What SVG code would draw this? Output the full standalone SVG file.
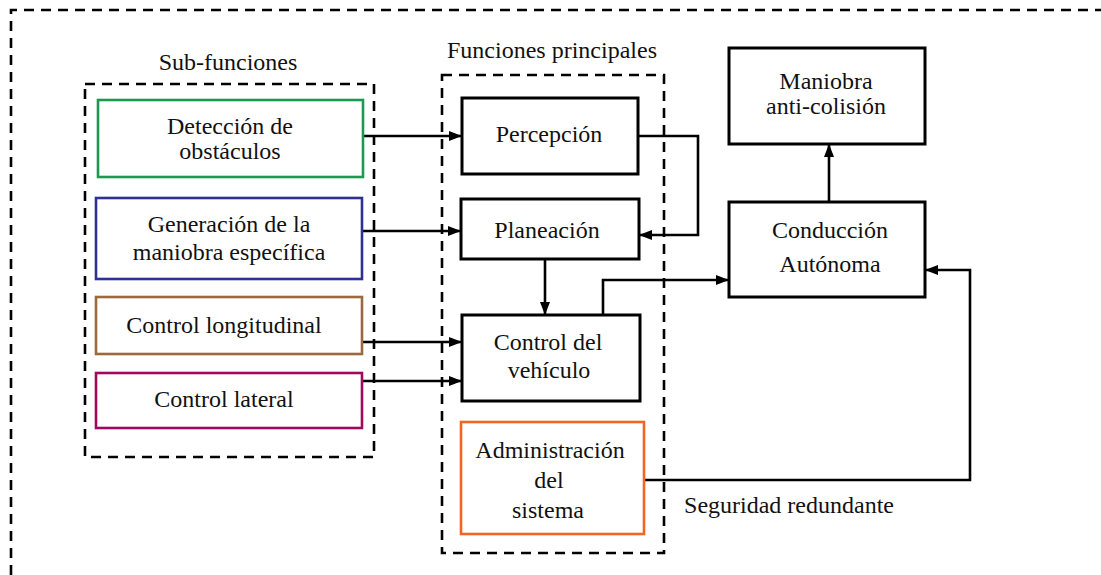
<svg xmlns="http://www.w3.org/2000/svg" width="1101" height="575" viewBox="0 0 1101 575">
  <defs>
    <marker id="arrow" markerUnits="userSpaceOnUse" markerWidth="14" markerHeight="12" refX="13" refY="6" orient="auto">
      <path d="M0,1 L13,6 L0,11 Z" fill="#000"/>
    </marker>
    <style>
      .frame { fill: none; stroke: #000; stroke-width: 2.6; stroke-dasharray: 10 7; }
      .box { fill: #fff; stroke: #000; stroke-width: 3; }
      .cbox { fill: #fff; stroke-width: 2.6; }
      .link { fill: none; stroke: #000; stroke-width: 2.6; }
      .arrow { marker-end: url(#arrow); }
    </style>
  </defs>
  <rect width="1101" height="575" fill="#fff"/>

  <!-- outer frame (open towards right and bottom) -->
  <path class="frame" d="M11,575 V10 H1101"/>

  <g font-family="Liberation Serif, Times New Roman, serif" font-size="24" fill="#111" text-anchor="middle">
  <!-- group frames -->
  <g id="grupo-subfunciones">
    <rect class="frame" x="85" y="84" width="289" height="373"/>
    <text x="228" y="70">Sub-funciones</text>
  </g>
  <g id="grupo-principales">
    <rect class="frame" x="442" y="75" width="222" height="478"/>
    <text x="552" y="58">Funciones principales</text>
  </g>

  <!-- connectors -->
  <g id="conectores">
    <path class="link arrow" d="M363,136 H462"/>
    <path class="link arrow" d="M362,231 H461"/>
    <path class="link arrow" d="M362,342 H462"/>
    <path class="link arrow" d="M362,381 H462"/>
    <path class="link arrow" d="M638,136 H698 V235 H639"/>
    <path class="link arrow" d="M545,259 V315"/>
    <path class="link arrow" d="M603,315 V280 H729"/>
    <path class="link arrow" d="M829,202 V144"/>
    <path class="link arrow" d="M644,480 H970 V270 H925"/>
  </g>

  <!-- sub-functions -->
  <g id="deteccion">
    <rect class="cbox" x="98" y="100" width="265" height="77" stroke="#1a9a50"/>
    <text x="230" y="134">Detección de</text>
    <text x="230" y="159">obstáculos</text>
  </g>
  <g id="generacion">
    <rect class="cbox" x="96" y="198" width="266" height="81" stroke="#2e3192"/>
    <text x="229" y="232">Generación de la</text>
    <text x="229" y="260">maniobra específica</text>
  </g>
  <g id="control-longitudinal">
    <rect class="cbox" x="96" y="297" width="266" height="57" stroke="#9a6a3c"/>
    <text x="224" y="333">Control longitudinal</text>
  </g>
  <g id="control-lateral">
    <rect class="cbox" x="96" y="373" width="266" height="55" stroke="#a3085f"/>
    <text x="224" y="407">Control lateral</text>
  </g>

  <!-- main functions -->
  <g id="percepcion">
    <rect class="box" x="462" y="98" width="176" height="76"/>
    <text x="549" y="142">Percepción</text>
  </g>
  <g id="planeacion">
    <rect class="box" x="461" y="199" width="178" height="60"/>
    <text x="547" y="238">Planeación</text>
  </g>
  <g id="control-vehiculo">
    <rect class="box" x="462" y="315" width="178" height="86"/>
    <text x="548" y="350">Control del</text>
    <text x="549" y="378">vehículo</text>
  </g>
  <g id="administracion">
    <rect class="cbox" x="461" y="422" width="183" height="112" stroke="#f26522"/>
    <text x="550" y="458">Administración</text>
    <text x="549" y="488">del</text>
    <text x="548" y="518">sistema</text>
  </g>

  <!-- right-hand blocks -->
  <g id="maniobra">
    <rect class="box" x="729" y="48" width="196" height="96"/>
    <text x="826" y="89">Maniobra</text>
    <text x="826" y="114">anti-colisión</text>
  </g>
  <g id="conduccion">
    <rect class="box" x="729" y="202" width="196" height="95"/>
    <text x="830" y="238">Conducción</text>
    <text x="830" y="272">Autónoma</text>
  </g>

  <text x="789" y="513">Seguridad redundante</text>
  </g>
</svg>
